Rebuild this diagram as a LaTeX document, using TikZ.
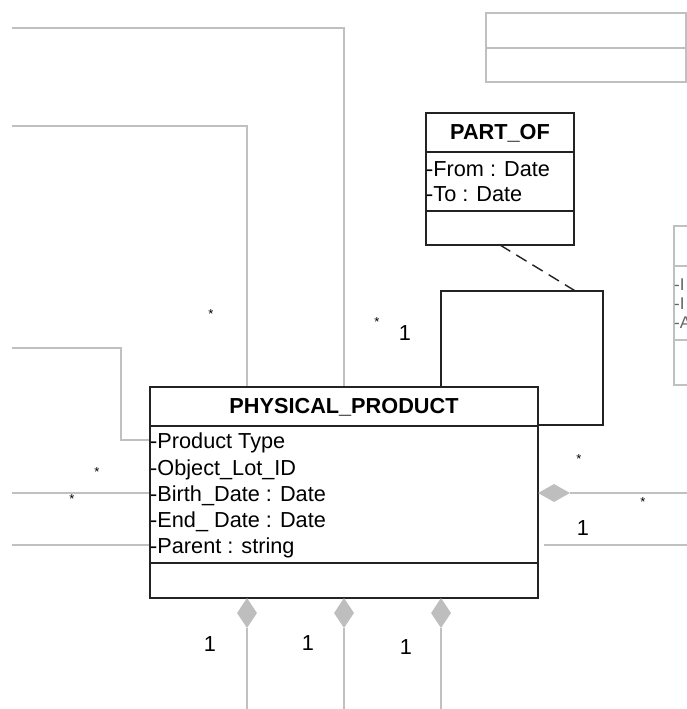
\documentclass[tikz,border=0pt]{standalone}
\usepackage{fontspec}
\setmainfont{Liberation Sans}
\usetikzlibrary{shapes.geometric}
\definecolor{lg}{RGB}{192,192,192}
\definecolor{dfill}{RGB}{190,190,190}
\definecolor{boxc}{RGB}{35,35,35}
\tikzset{
  cls/.style={draw=boxc,line width=1.6pt,fill=white,inner sep=0pt,rectangle},
  sep/.style={draw=boxc,line width=1.6pt},
  gl/.style={draw=lg,line width=1.6pt},
  gbox/.style={draw=lg,line width=1.4pt},
  attr/.style={anchor=base west,inner sep=1pt,font=\fontsize{21.7}{26}\selectfont},
  ttl/.style={anchor=base,inner sep=0pt,font=\fontsize{21.7}{26}\selectfont\bfseries},
  mult/.style={inner sep=0pt,font=\fontsize{21.7}{26}\selectfont},
  star/.style={inner sep=0pt,font=\fontsize{13}{14}\selectfont},
  dia/.style={diamond,draw=none,fill=dfill,inner sep=0pt}
}
\begin{document}
\begin{tikzpicture}[x=1pt,y=-1pt]
\useasboundingbox (0,0) rectangle (687,709);
\fill[white] (0,0) rectangle (687,709);

% free ends
\coordinate (t1) at (12,28);
\coordinate (t1c) at (344,28);
\coordinate (t2) at (12,126);
\coordinate (t2c) at (247,126);
\coordinate (l1) at (12,348);
\coordinate (l1c) at (121,348);
\coordinate (l1d) at (121,440);
\coordinate (l2) at (12,493);
\coordinate (l3) at (12,545);
\coordinate (r1) at (687,493);
\coordinate (r2a) at (544,545);
\coordinate (r2) at (687,545);
\coordinate (b1) at (247,709);
\coordinate (b2) at (344,709);
\coordinate (b3) at (441,709);

% top right partial class
\draw[gbox] (486,13) rectangle (686,82);
\draw[gbox] (486,48) -- (686,48);
% right partial class
\draw[gbox] (674,226) rectangle (700,385);
\draw[gbox] (674,266) -- (700,266);
\draw[gbox] (674,340) -- (700,340);
\node[attr,font=\fontsize{17}{19}\selectfont,text=boxc!70] (ra1) at (673,290) {-I};
\node[attr,font=\fontsize{17}{19}\selectfont,text=boxc!70] (ra2) at (673,309) {-I};
\node[attr,font=\fontsize{17}{19}\selectfont,text=boxc!70] (ra3) at (673,328) {-A};

% PART_OF class
\node[cls,minimum width=148pt,minimum height=132pt] (po) at (500,179) {};
\draw[sep] (426,152) -- (574,152);
\draw[sep] (426,211) -- (574,211);
\node[ttl] (pot) at (500,139) {PART\_OF};
\node[attr] (poa1) at (425,176) {-From : Date};
\node[attr] (poa2) at (425,201) {-To : Date};

% self-association loop
\coordinate (lp1) at (441,291);
\coordinate (lp2) at (603,291);
\coordinate (lp3) at (603,425);
\draw[sep] (441,387) -- (lp1) -- (lp2) -- (lp3) -- (538,425);
\coordinate (dashend) at (577,292);
\draw[draw=boxc,line width=1.4pt,dash pattern=on 12pt off 7pt] (500,245) -- (dashend);

% gray connectors to the left / top
\draw[gl] (t1) -- (t1c) -- (344,387);
\draw[gl] (t2) -- (t2c) -- (247,387);
\draw[gl] (l1) -- (l1c) -- (l1d) -- (150,440);
\draw[gl] (l2) -- (150,493);
\draw[gl] (l3) -- (150,545);

% PHYSICAL_PRODUCT class
\node[cls,minimum width=388pt,minimum height=211pt] (pp) at (344,492.5) {};
\draw[sep] (150,426) -- (538,426);
\draw[sep] (150,563) -- (538,563);
\node[ttl] (ppt) at (344,413) {PHYSICAL\_PRODUCT};
\node[attr] (pa1) at (149,448) {-Product Type};
\node[attr] (pa2) at (149,475) {-Object\_Lot\_ID};
\node[attr] (pa3) at (149,501) {-Birth\_Date : Date};
\node[attr] (pa4) at (149,527) {-End\_ Date : Date};
\node[attr] (pa5) at (149,553) {-Parent : string};

% right composition
\node[dia,minimum width=32pt,minimum height=18pt] (dr) at (554,493) {};
\draw[gl] (dr.east) -- (r1);
\draw[gl] (r2a) -- (r2);

% bottom compositions
\node[dia,minimum width=20pt,minimum height=30pt] (d1) at (247,613) {};
\node[dia,minimum width=20pt,minimum height=30pt] (d2) at (344,613) {};
\node[dia,minimum width=20pt,minimum height=30pt] (d3) at (441,613) {};
\draw[gl] (d1.south) -- (b1);
\draw[gl] (d2.south) -- (b2);
\draw[gl] (d3.south) -- (b3);

% multiplicities
\node[star] (s1) at (211,314) {*};
\node[star] (s2) at (377,322) {*};
\node[mult] (m1) at (405,333) {1};
\node[star] (s3) at (97,472) {*};
\node[star] (s4) at (72,499) {*};
\node[star] (s5) at (579,459) {*};
\node[star] (s6) at (643,502) {*};
\node[mult] (m2) at (583,528) {1};
\node[mult] (m3) at (210,644) {1};
\node[mult] (m4) at (308,643) {1};
\node[mult] (m5) at (406,647) {1};
\end{tikzpicture}
\end{document}
